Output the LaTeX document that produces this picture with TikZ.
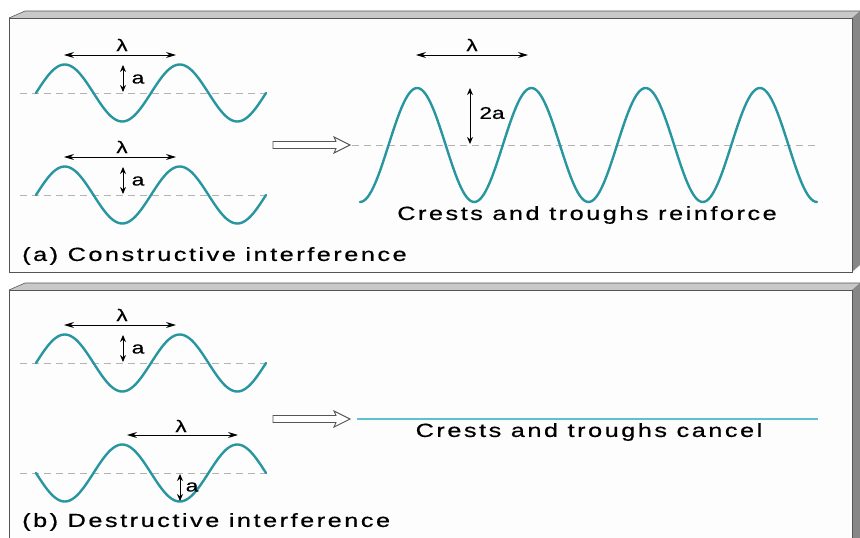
\documentclass[tikz,border=0pt]{standalone}
\usepackage{fontspec}
\usepackage{graphicx}
\setmainfont{Liberation Sans}
\newfontfamily\spacedfont[LetterSpace=10, FakeBold=0.5]{Liberation Sans}
\newfontfamily\symfont[FakeBold=0.4]{Liberation Sans}
\usetikzlibrary{arrows.meta}
\definecolor{wavec}{RGB}{40,150,160}
\definecolor{flatc}{RGB}{90,195,205}
\definecolor{axisc}{RGB}{180,180,180}
\definecolor{topc}{RGB}{200,200,200}
\definecolor{sidec}{RGB}{135,135,135}
\definecolor{edgec}{RGB}{85,85,85}
\definecolor{facec}{RGB}{253,253,253}
\newcommand{\widetext}[1]{\scalebox{1.33}[1]{#1}}
\begin{document}
\begin{tikzpicture}[x=1pt,y=-1pt,
  wave/.style={wavec, line width=2.4pt, line cap=round},
  flat/.style={flatc, line width=1.6pt},
  axisline/.style={axisc, line width=0.8pt, dash pattern=on 7pt off 5pt},
  dim/.style={black, line width=1pt, {Stealth[length=7pt,width=6pt]}-{Stealth[length=7pt,width=6pt]}},
  dimh/.style={black, line width=1pt, {Stealth[length=10pt,width=6pt]}-{Stealth[length=10pt,width=6pt]}},
  hollow/.style={edgec, fill=white, line width=0.9pt, line join=miter},
  sym/.style={font=\symfont\fontsize{17}{19}\selectfont, inner sep=0pt},
  caption/.style={font=\spacedfont\fontsize{19}{22}\selectfont, inner sep=0pt},
]
\useasboundingbox (0,0) rectangle (860,538);
\fill[white] (0,0) rectangle (860,538);

% ---------- panel (a) ----------
\fill[topc] (9,18) -- (25,11) -- (860,11) -- (852,18) -- cycle;
\fill[sidec] (852,18) -- (860,11) -- (860,265) -- (852,272) -- cycle;
\draw[edgec, line width=0.6pt] (9,18) -- (25,11) -- (860,11);
\filldraw[fill=facec, draw=edgec, line width=1pt] (9,18) rectangle (852,272);

% wave a1
\draw[axisline] (20,93) -- (267,93);
\draw[wave] plot[domain=0:720, samples=121] ({36+\x/360*115}, {93-28.5*sin(\x)});
\coordinate (la1s) at (64,55); \coordinate (la1e) at (176,55);
\draw[dimh] (la1s) -- (la1e);
\node[sym] (lam1) at (122,45) {\widetext{λ}};
\coordinate (aa1t) at (123,65); \coordinate (aa1b) at (123,92);
\draw[dim] (aa1t) -- (aa1b);
\node[sym] (amp1) at (138,79) {\widetext{a}};

% wave a2
\draw[axisline] (20,195) -- (267,195);
\draw[wave] plot[domain=0:720, samples=121] ({36+\x/360*115}, {195-28.5*sin(\x)});
\coordinate (la2s) at (64,157); \coordinate (la2e) at (176,157);
\draw[dimh] (la2s) -- (la2e);
\node[sym] (lam2) at (122,147) {\widetext{λ}};
\coordinate (aa2t) at (123,167); \coordinate (aa2b) at (123,194);
\draw[dim] (aa2t) -- (aa2b);
\node[sym] (amp2) at (138,181) {\widetext{a}};

% arrow a
\coordinate (arAs) at (273,145);
\draw[hollow, shift={(arAs)}] (0,-3.5) -- (63,-3.5) -- (61,-8) -- (77,0) -- (61,8) -- (63,3.5) -- (0,3.5) -- cycle;

% resultant wave
\draw[axisline] (352,145) -- (820,145);
\draw[wave] plot[domain=0:1440, samples=241] ({360+\x/360*114.25}, {145+57*cos(\x)});
\coordinate (l3s) at (416,55); \coordinate (l3e) at (528,55);
\draw[dimh] (l3s) -- (l3e);
\node[sym] (lam3) at (472,45) {\widetext{λ}};
\coordinate (a3t) at (470,88); \coordinate (a3b) at (470,144);
\draw[dim] (a3t) -- (a3b);
\node[sym] (amp3) at (492,113) {\widetext{2a}};
\node[caption] (resA) at (587,215) {\widetext{Crests and troughs reinforce}};
\node[caption, anchor=west] (capA) at (22,256) {\widetext{(a) Constructive interference}};

% ---------- panel (b) ----------
\fill[topc] (9,290) -- (25,283) -- (860,283) -- (852,290) -- cycle;
\fill[sidec] (852,290) -- (860,283) -- (860,538) -- (852,538) -- cycle;
\draw[edgec, line width=0.6pt] (9,290) -- (25,283) -- (860,283);
\fill[facec] (9,290) rectangle (852,538);
\draw[edgec, line width=1pt] (9,538) -- (9,290) -- (852,290) -- (852,538);

% wave b1
\draw[axisline] (20,363) -- (267,363);
\draw[wave] plot[domain=0:720, samples=121] ({36+\x/360*115}, {363-28.5*sin(\x)});
\coordinate (lb1s) at (64,325); \coordinate (lb1e) at (176,325);
\draw[dimh] (lb1s) -- (lb1e);
\node[sym] (lam4) at (122,315) {\widetext{λ}};
\coordinate (ab1t) at (123,335); \coordinate (ab1b) at (123,362);
\draw[dim] (ab1t) -- (ab1b);
\node[sym] (amp4) at (138,349) {\widetext{a}};

% wave b2
\draw[axisline] (20,473) -- (267,473);
\draw[wave] plot[domain=0:720, samples=121] ({36+\x/360*115}, {473+28.5*sin(\x)});
\coordinate (lb2s) at (127,435); \coordinate (lb2e) at (238,435);
\draw[dimh] (lb2s) -- (lb2e);
\node[sym] (lam5) at (181,426) {\widetext{λ}};
\coordinate (ab2t) at (180,474); \coordinate (ab2b) at (180,501);
\draw[dim] (ab2t) -- (ab2b);
\node[sym] (amp5) at (192,487) {\widetext{a}};

% arrow b
\coordinate (arBs) at (273,419);
\draw[hollow, shift={(arBs)}] (0,-3.5) -- (63,-3.5) -- (61,-8) -- (77,0) -- (61,8) -- (63,3.5) -- (0,3.5) -- cycle;

% flat line
\coordinate (fls) at (357,419); \coordinate (fle) at (818,419);
\draw[flat] (fls) -- (fle);
\node[caption] (resB) at (589,432) {\widetext{Crests and troughs cancel}};
\node[caption, anchor=west] (capB) at (22,522) {\widetext{(b) Destructive interference}};
\end{tikzpicture}
\end{document}
